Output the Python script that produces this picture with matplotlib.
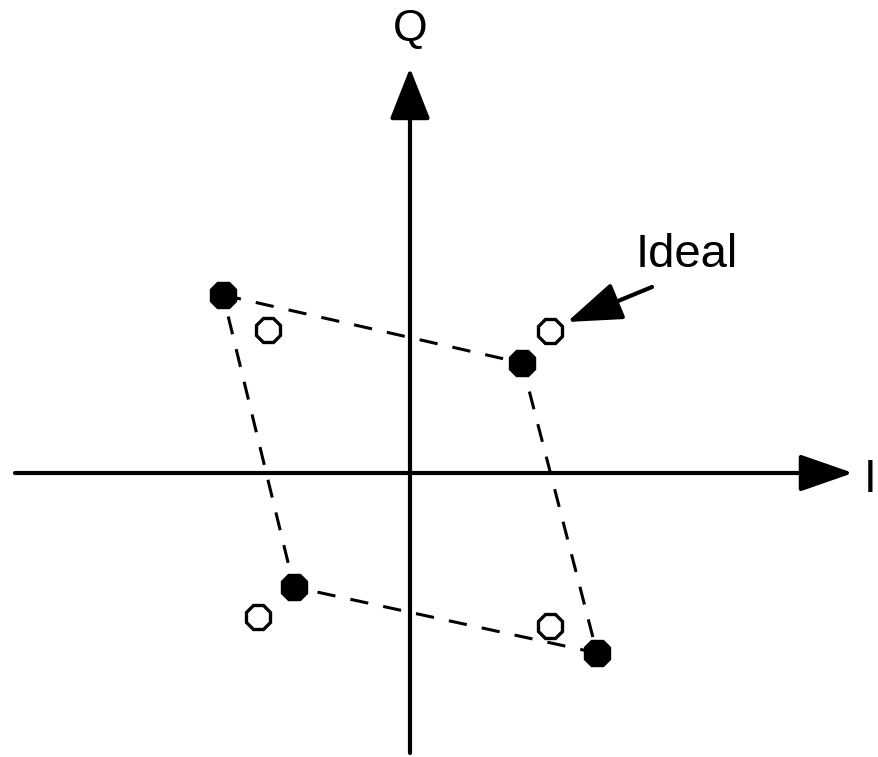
import matplotlib
matplotlib.use("Agg")
import matplotlib.pyplot as plt

# Ideal constellation points (open) and distorted points (filled)
ideal_i = [-142, 140, -152, 140]
ideal_q = [143, 142, -144, -153]
actual_i = [-187, 112, 187, -116]
actual_q = [178, 110, -180, -114]

plt.rcParams['font.family'] = ['Liberation Sans', 'DejaVu Sans']

fig = plt.figure(figsize=(8.79, 7.57), dpi=100)
ax = fig.add_axes([0, 0, 1, 1])
ax.set_xlim(-410, 469)
ax.set_ylim(-284, 473)
ax.axis('off')

def arrow(x0, y0, x1, y1, hl, hw, lw=3.0):
    ax.annotate('', xy=(x1, y1), xytext=(x0, y0),
                arrowprops=dict(arrowstyle='-|>,head_length=%g,head_width=%g' % (hl, hw),
                                mutation_scale=1, lw=lw, color='black',
                                shrinkA=0, shrinkB=0))

# axes
arrow(-395, 0, 443, 0, 33, 11.5)
arrow(0, -280, 0, 405, 32, 12.6)

# dashed quadrilateral
xs = actual_i + [actual_i[0]]
ys = actual_q + [actual_q[0]]
ax.plot(xs, ys, color='black', lw=2.2, linestyle=(0, (6, 5)), zorder=2)

ax.plot(actual_i, actual_q, linestyle='none', marker='8', ms=21,
        mfc='black', mec='black', zorder=3)
ax.plot(ideal_i, ideal_q, linestyle='none', marker='8', ms=18.5,
        mfc='white', mec='black', mew=2.4, zorder=3)

# labels
ax.text(0, 432, 'Q', ha='center', va='baseline', fontsize=32)
ax.text(460, -19, 'I', ha='center', va='baseline', fontsize=33)
ax.text(277, 206, 'Ideal', ha='center', va='baseline', fontsize=34)
arrow(242, 186, 157, 151, 34, 12, lw=3.0)

fig.savefig('out.png', dpi=100)
